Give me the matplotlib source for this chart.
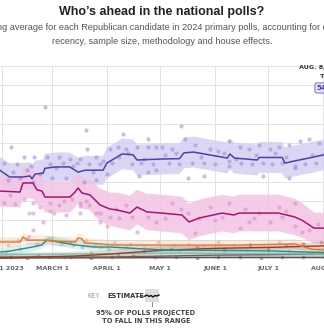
import numpy as np
import matplotlib
matplotlib.use("Agg")
import matplotlib.pyplot as plt

# x values are days since Feb. 1, 2023; y values are percent support
month_ticks = [0, 28, 59, 89, 120, 150, 181]
month_labels = ["FEB. 1 2023", "MARCH 1", "APRIL 1", "MAY 1", "JUNE 1", "JULY 1", "AUG. 1"]

# Trump average
trump_days = [-1.5, 4, 11.6, 15.5, 16.7, 18.4, 23, 24, 30, 38, 42.7, 46.6, 56.8, 59, 67.5, 73.7,
              76, 90, 100, 102.5, 108, 127, 128.5, 131, 144, 145, 158, 159.6, 165, 173, 181.6, 188]
trump_avg = [46, 42.5, 42.5, 43, 41.5, 44, 44.5, 47, 47.7, 47.7, 45, 46, 46, 49.7, 54.4, 54,
             51.3, 51.8, 52, 55, 55.4, 52.3, 54.4, 52.3, 51.3, 52.6, 52.6, 49.7, 50.8, 52.3, 54, 54.2]
trump_spread = [7, 7, 7, 7, 7, 7, 7, 7.5, 7.5, 7.5, 7.5, 7.5, 7.5, 8, 8, 8,
                8, 8, 8, 8, 8, 8, 8, 8, 8, 8, 8, 8, 8, 8, 8, 8]

# DeSantis average
desantis_days = [-1.5, 9.9, 11.6, 17.2, 19.5, 22.3, 24, 38.1, 41, 42.7, 44.9, 49.4, 52.3, 55.1, 60.7,
                 64.7, 72, 76, 81.6, 90, 101.4, 105.4, 111, 124, 130.8, 133.6, 156, 165, 169, 176, 181.6, 188]
desantis_avg = [35.2, 34.7, 39.4, 39.4, 35.8, 35.2, 32.1, 32.1, 34.7, 36.8, 34.2, 33.2, 30.6, 28, 25.9,
                25.4, 23.8, 26.9, 24.4, 23.8, 22.8, 19.2, 21.2, 23.8, 22.8, 23.8, 23.8, 21.8, 20.2, 16, 16, 15.5]
desantis_spread = [8, 8, 8, 8, 8, 8, 8, 8, 8, 8, 8, 8, 8.5, 8.5, 8.5,
                   9, 9, 9, 9.5, 9.5, 9.5, 9.5, 9.5, 9.5, 9.5, 9.5, 9.5, 9.5, 9, 8, 8, 8]

# smaller candidates
pence_days = [-1.5, 10, 11.6, 13.8, 22.9, 28.5, 41, 42.7, 44.9, 46.6, 53, 61, 90, 135, 150, 165, 175, 188]
pence_avg = [8.8, 8.8, 11.4, 9.8, 9.8, 9.3, 8.8, 10.9, 10.4, 8.3, 8, 7.3, 7.2, 7.2, 7.5, 7.8, 5, 4.5]
haley_days = [-1.5, 4, 17, 22.3, 25, 28.5, 35, 41, 52, 61, 90, 120, 150, 175, 188]
haley_avg = [3.6, 4.1, 6.2, 7.3, 9.8, 9.3, 8.3, 7.3, 6.2, 6.2, 4.7, 4.5, 4.2, 3.5, 3.2]
rama_days = [-1.5, 20, 40, 60, 90, 120, 150, 170, 188]
rama_avg = [0.5, 1, 1.5, 2.5, 4.5, 5.5, 6, 6.5, 7]
scott_days = [-1.5, 30, 60, 90, 120, 150, 188]
scott_avg = [2.5, 2.5, 2.8, 3, 3, 2.8, 2.6]
christie_days = [-1.5, 60, 90, 120, 150, 188]
christie_avg = [1, 1, 1.5, 2, 2.2, 2.8]
other_days = [-1.5, 60, 120, 188]
other_avg = [0.6, 0.7, 0.8, 0.8]

# individual polls
trump_poll_days = [24, 47, 68, 82, 5, 12, 18, 25, 32, 38, 44, 48, 53, 61, 65, 70, 76, 82, 87,
                   1, 8, 16, 27, 34, 42, 49, 55, 62, 73, 78, 85, 3, 10, 17, 28, 36, 46, 53, 59, 77, 82, 87,
                   101, 90, 96, 103, 109, 117, 122, 128, 134, 139, 145, 151, 156, 162, 168, 173, 179,
                   94, 100, 107, 114, 120, 128, 135, 141, 147, 152, 158, 165, 171, 177,
                   105, 114, 128, 147, 162, 165, 182, 185, 187,
                   6, 14, 21, 30, 40, 51, 57, 66, 71, 80, 92, 98, 112, 125, 132, 143, 154, 160, 175]
trump_poll_pct = [79, 67, 65, 62, 58, 53, 53, 53, 53, 52, 52, 57, 53, 57, 58, 57, 58, 58, 58,
                  50, 49, 48, 49, 50, 50, 49, 49, 50, 49, 50, 49, 41, 42, 40, 42, 42, 40, 41, 44, 43, 45, 46,
                  69, 58, 57, 62, 59, 57, 56, 61, 58, 57, 59, 57, 58, 59, 61, 62, 60,
                  50, 49, 50, 50, 49, 51, 50, 49, 50, 49, 50, 48, 49, 50,
                  42, 43, 48, 43, 42, 47, 55, 52, 58,
                  45, 46, 44, 47, 48, 45, 51, 53, 55, 52, 54, 55, 53, 55, 52, 54, 55, 53, 54]
desantis_poll_days = [1, 7, 17, 21, 27, 32, 39, 44, 49, 55, 15, 23, 29, 36, 44, 17, 14, 59, 53, 17,
                      27, 44, 55, 61, 66, 76, 82, 87, 70, 96, 101, 111, 117, 128, 134, 137, 139, 145,
                      151, 156, 158, 165, 165, 169, 173, 109, 120, 183, 186,
                      4, 12, 35, 47, 64, 73, 92, 105, 124, 142, 160, 178]
desantis_poll_pct = [29, 28.5, 29, 27, 29, 28, 31, 27.5, 28, 24, 24, 19, 24, 23, 24, 15, 11, 17, 24, 24,
                     25, 29, 19, 22, 21, 14, 22, 19, 28, 29, 26, 21, 27, 29, 16, 26, 19, 24,
                     19, 27, 22, 17, 29, 14, 15, 13.5, 20, 14, 17,
                     33, 31, 30, 30, 26, 22, 21, 24, 22, 21, 25, 18]
pence_poll_days = [3, 9, 15, 20, 26, 34, 40, 47, 55, 63, 72, 80, 88, 97, 105, 113, 122, 131, 140,
                   148, 156, 163, 170, 178, 185]
pence_poll_pct = [7, 10, 12, 8, 11, 9, 7, 10, 6, 9, 8, 6, 9, 7, 8, 6, 9, 7, 8, 6, 9, 7, 8, 5, 4]
haley_poll_days = [2, 10, 19, 24, 28, 33, 38, 45, 52, 60, 70, 80, 90, 100, 112, 125, 138, 150,
                   162, 175, 185]
haley_poll_pct = [3, 5, 7, 10, 11, 8, 9, 6, 7, 5, 6, 4, 5, 4, 5, 4, 5, 3, 4, 3, 3]
rama_poll_days = [5, 20, 35, 50, 65, 80, 95, 110, 125, 140, 150, 160, 170, 180, 186]
rama_poll_pct = [1, 2, 1, 3, 2, 4, 5, 6, 5, 7, 5, 7, 8, 9, 10]
low_poll_days = [4, 14, 26, 38, 50, 62, 74, 86, 98, 110, 122, 134, 146, 158, 170, 182]
low_poll_pct = [1, 0.5, 1, 1, 0.5, 1, 1.5, 1, 1, 0.5, 1, 1, 0.5, 1, 1, 0.5]

px_w, px_h = 324, 329
fig = plt.figure(figsize=(px_w / 100, px_h / 100), dpi=100)
fig.patch.set_facecolor("white")


def fx(px):
    return px / px_w


def fy(py):
    return 1 - py / px_h


# axes run past the right edge of the picture (chart is cropped)
ax = fig.add_axes([0, fy(259), 360 / px_w, (259 - 66) / px_h])
ax.set_xlim(-1.41, -1.41 + 360 / 1.77)
ax.set_ylim(0, 100)
for s in ax.spines.values():
    s.set_visible(False)
ax.set_yticks(np.arange(0, 101, 10))
ax.set_yticklabels([])
ax.tick_params(axis="y", length=0)
ax.set_xticks(month_ticks)
ax.set_xticklabels(month_labels, fontsize=4.6, color="#666666",
                   family=["Liberation Sans Narrow", "DejaVu Sans"], fontweight="bold")
ax.tick_params(axis="x", length=0, pad=5)
ax.grid(True, color="#e2e2e2", lw=0.7)
ax.set_axisbelow(True)
ax.axhline(0, color="#bbbbbb", lw=0.8, zorder=1)

# bands
ax.fill_between(trump_days, np.array(trump_avg) - np.array(trump_spread),
                np.array(trump_avg) + np.array(trump_spread), color="#d6cff4", alpha=0.85, lw=0, zorder=2)
ax.fill_between(desantis_days, np.array(desantis_avg) - np.array(desantis_spread),
                np.array(desantis_avg) + np.array(desantis_spread), color="#f3c4e3", alpha=0.85, lw=0, zorder=2)
lower = [(pence_days, pence_avg, "#e0772f", 2.5), (haley_days, haley_avg, "#2a8c8a", 2.2),
         (rama_days, rama_avg, "#9b3b24", 2), (scott_days, scott_avg, "#79c3b4", 1.5),
         (christie_days, christie_avg, "#7a5c52", 1.2), (other_days, other_avg, "#555555", 0.8)]
for d, v, c, w in lower:
    v = np.array(v)
    ax.fill_between(d, v - w, v + w, color=c, alpha=0.14, lw=0, zorder=2)

# polls
ax.scatter(trump_poll_days, trump_poll_pct, s=9, color="#978ad6", alpha=0.55, lw=0, zorder=3)
ax.scatter(desantis_poll_days, desantis_poll_pct, s=9, color="#d88ac2", alpha=0.55, lw=0, zorder=3)
ax.scatter(pence_poll_days, pence_poll_pct, s=7, color="#eaa57a", alpha=0.55, lw=0, zorder=3)
ax.scatter(haley_poll_days, haley_poll_pct, s=7, color="#7cc0bd", alpha=0.55, lw=0, zorder=3)
ax.scatter(rama_poll_days, rama_poll_pct, s=7, color="#b0705e", alpha=0.55, lw=0, zorder=3)
ax.scatter(low_poll_days, low_poll_pct, s=7, color="#8a5a50", alpha=0.55, lw=0, zorder=3)

# averages
for d, v, c, w in lower[::-1]:
    ax.plot(d, v, color=c, lw=1.0, zorder=4)
ax.plot(desantis_days, desantis_avg, color="#a4147a", lw=1.1, zorder=5)
ax.plot(trump_days, trump_avg, color="#4f3fa8", lw=1.1, zorder=5)

# titles
fig.text(0.5, fy(12), "Who\u2019s ahead in the national polls?", ha="center", va="center",
         fontsize=9, fontweight="bold", family="Liberation Sans", color="#222222")
fig.text(0.5, fy(28), "An updating average for each Republican candidate in 2024 primary polls, "
         "accounting for each poll\u2019s", ha="center", va="center", fontsize=6.55,
         family="Liberation Sans", color="#555555")
fig.text(0.5, fy(41), "recency, sample size, methodology and house effects.", ha="center", va="center",
         fontsize=6.55, family="Liberation Sans", color="#555555")

# hover label (cropped at right)
narrow = ["Liberation Sans Narrow", "DejaVu Sans"]
fig.text(fx(299), fy(67), "AUG. 8, 2023", ha="left", va="center", fontsize=4.6, family=narrow,
         fontweight="bold", color="#333333")
fig.text(fx(320), fy(76), "TRUMP", ha="left", va="center", fontsize=4.6, family=narrow,
         fontweight="bold", color="#333333")
fig.text(fx(317), fy(88), "54.2%", ha="left", va="center", fontsize=5, family=narrow,
         fontweight="bold", color="#4f3fa8",
         bbox=dict(boxstyle="round,pad=0.3", fc="#e4dff8", ec="#6a58c4", lw=0.6))

# key
fig.text(fx(87), fy(296), "KEY", ha="left", va="center", fontsize=4.8, family=narrow, color="#999999")
fig.text(fx(107), fy(296), "ESTIMATE", ha="left", va="center", fontsize=4.8, family=narrow,
         fontweight="bold", color="#333333")
kax = fig.add_axes([fx(136), fy(307), (166 - 136) / px_w, (307 - 287) / px_h])
kax.set_xlim(0, 30)
kax.set_ylim(0, 20)
kax.axis("off")
kax.add_patch(plt.Rectangle((9, 5), 14, 13, color="#dddddd", lw=0))
kax.plot([0, 9], [11, 11], color="#555555", lw=0.5)
key_x = [9, 11, 13, 15, 17, 19, 21, 23]
key_y = [11, 12, 10.5, 11.5, 10, 11.5, 11, 12]
kax.plot(key_x, key_y, color="#111111", lw=1.0)
kax.plot([16, 16], [0, 5], color="#555555", lw=0.5)
fig.text(fx(146), fy(313), "95% OF POLLS PROJECTED", ha="center", va="center", fontsize=4.8,
         family=narrow, fontweight="bold", color="#444444")
fig.text(fx(146), fy(321), "TO FALL IN THIS RANGE", ha="center", va="center", fontsize=4.8,
         family=narrow, fontweight="bold", color="#444444")

fig.savefig("out.png", dpi=100)
